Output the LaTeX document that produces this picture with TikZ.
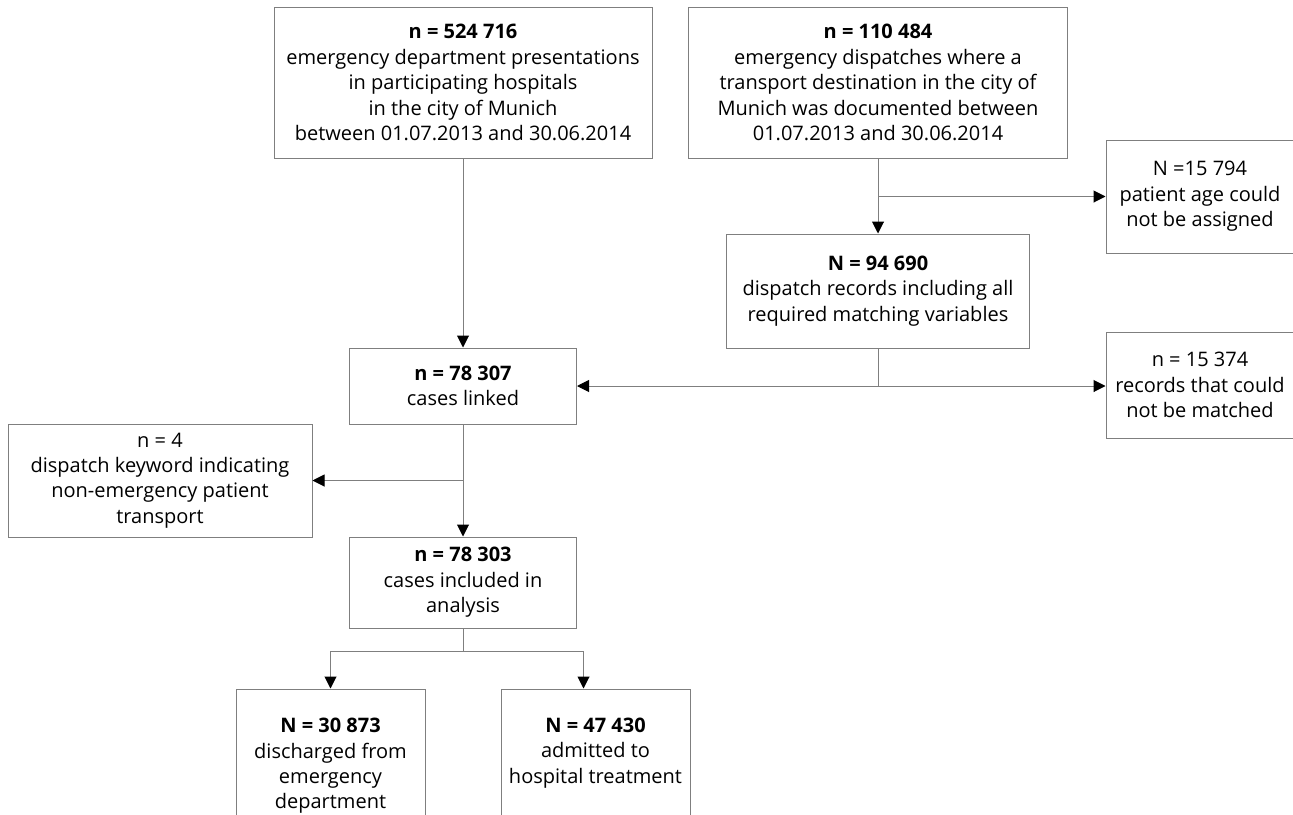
\documentclass[tikz,border=0pt]{standalone}
\usepackage{fontspec}
\setmainfont{Open Sans}
\usetikzlibrary{arrows.meta,calc}
\definecolor{linegray}{HTML}{7F7F7F}
\tikzset{
	box/.style={draw=linegray, line width=1pt, align=center, inner sep=0pt, font=\fontsize{20}{25.4}\selectfont},
	flowline/.style={draw=linegray, line width=1pt},
	flowarrow/.style={flowline, -{Triangle[length=12pt,width=12pt,color=black]}}
}

\begin{document}
\begin{tikzpicture}[x=1pt,y=-1pt]
			%%%%% START %%%%%
			
			\useasboundingbox (0,0) rectangle (1293,814);
			\clip (0,0) rectangle (1293,814);
			\fill[white] (0,0) rectangle (1293,814);
			
			\node[box, minimum width=378, minimum height=151] (presented) at (463, 82.5) {\textbf{n = 524 716}\\emergency department presentations\\in participating hospitals\\in the city of Munich\\between 01.07.2013 and 30.06.2014};
			\node[box, minimum width=379, minimum height=151] (dispatches) at (878, 82.5) {\textbf{n = 110 484}\\emergency dispatches where a\\transport destination in the city of\\Munich was documented between\\01.07.2013 and 30.06.2014};
			\node[box, minimum width=188, minimum height=113] (noage) at (1200, 196.5) {N =15 794\\patient age could\\not be assigned};
			\node[box, minimum width=303, minimum height=114] (complete) at (878, 291) {\textbf{N = 94 690}\\dispatch records including all\\required matching variables};
			\node[box, minimum width=227, minimum height=76] (linked) at (463, 386) {\textbf{n = 78 307}\\cases linked};
			\node[box, minimum width=188, minimum height=106] (unmatched) at (1200, 385) {n = 15 374\\records that could\\not be matched};
			\node[box, minimum width=304, minimum height=113] (nonemerg) at (160, 480.5) {n = 4\\dispatch keyword indicating\\non-emergency patient\\transport};
			\node[box, minimum width=227, minimum height=91] (included) at (463, 582.5) {\textbf{n = 78 303}\\cases included in\\analysis};
			\node[box, minimum width=189, minimum height=154] (discharged) at (330.5, 766) {\textbf{N = 30 873}\\discharged from\\emergency\\department};
			\node[box, minimum width=189, minimum height=128] (admitted) at (595.5, 753) {\textbf{N = 47 430}\\admitted to\\hospital treatment};
			
			% junctions
			\coordinate (agesplit) at (dispatches.south |- noage.west);
			\coordinate (matchsplit) at (complete.south |- linked.east);
			\coordinate (keysplit) at (linked.south |- nonemerg.east);
			\coordinate (outsplit) at ($(included.south)+(0,23)$);
			
			\draw[flowarrow] (presented.south) -- (presented.south |- linked.north);
			\draw[flowarrow] (dispatches.south) -- (dispatches.south |- complete.north);
			\draw[flowarrow] (agesplit) -- (noage.west);
			
			\draw[flowline] (complete.south) -- (matchsplit);
			\draw[flowarrow] (matchsplit) -- (linked.east);
			\draw[flowarrow] (matchsplit) -- (matchsplit -| unmatched.west);
			
			\draw[flowarrow] (linked.south) -- (included.north);
			\draw[flowarrow] (keysplit) -- (nonemerg.east);
			
			\draw[flowline] (included.south) -- (outsplit);
			\draw[flowarrow] (outsplit) -| (discharged.north);
			\draw[flowarrow] (outsplit) -| ([xshift=-12pt]admitted.north);
			
			%%%%% END %%%%%
		\end{tikzpicture}
\end{document}
